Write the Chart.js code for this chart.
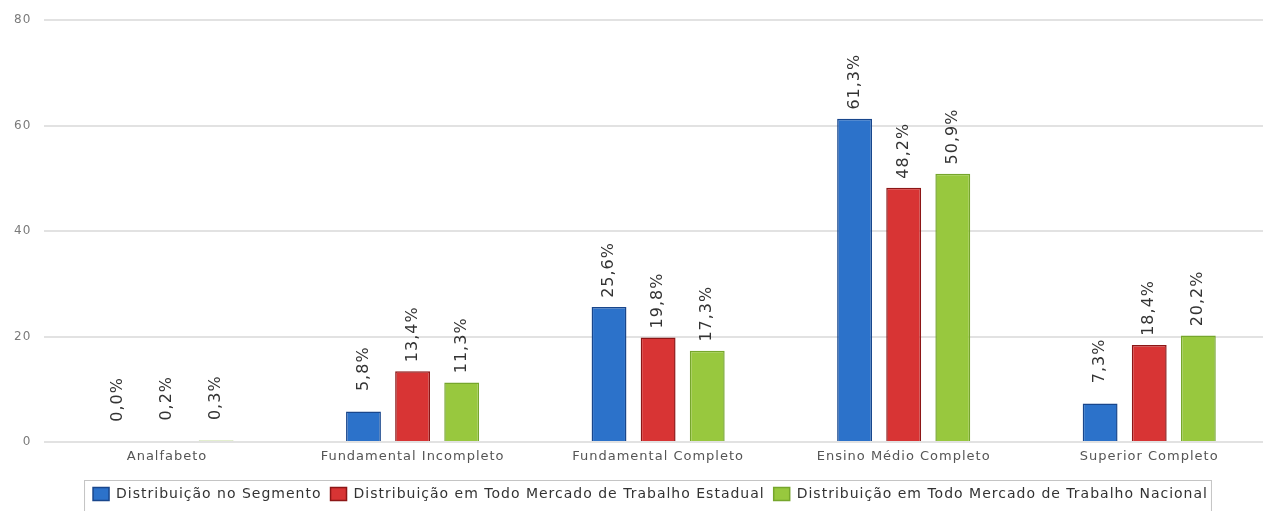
<!DOCTYPE html>
<html>
<head>
<meta charset="utf-8">
<script src="https://cdn.jsdelivr.net/npm/chart.js@4/dist/chart.umd.min.js"></script>
<style>
    html, body { margin: 0; padding: 0; background: #fff; overflow: hidden; }
    #wrap { width: 1272px; height: 511px; }
</style>
</head>
<body>
<div id="wrap"><canvas id="grafico" width="1272" height="511"></canvas></div>
<script>
// escolaridade - dados
let categorias = ["Analfabeto", "Fundamental Incompleto", "Fundamental Completo", "Ensino Médio Completo", "Superior Completo"];
let series = [
    "Distribuição no Segmento",
    "Distribuição em Todo Mercado de Trabalho Estadual",
    "Distribuição em Todo Mercado de Trabalho Nacional"
];
let segmento = [0.0, 5.8, 25.6, 61.3, 7.3];
let estadual = [0.2, 13.4, 19.8, 48.2, 18.4];
let nacional = [0.3, 11.3, 17.3, 50.9, 20.2];
let ticksY = [0, 20, 40, 60, 80];

let fonte = '"DejaVu Sans", Verdana, sans-serif';

// texto um pouco espacado, como no original
let espaco = {
    id: 'espaco',
    beforeInit(chart) { chart.ctx.letterSpacing = '1px'; },
    beforeUpdate(chart) { chart.ctx.letterSpacing = '1px'; },
    afterLayout(chart) {
        // legenda um pouco deslocada para a direita
        chart.legend.left += 14;
        chart.legend.right += 14;
    }
};

// rotulos verticais acima das barras
let rotulos = {
    id: 'rotulos',
    afterDatasetsDraw(chart) {
        let ctx = chart.ctx;
        ctx.save();
        ctx.font = '16px ' + fonte;
        ctx.fillStyle = '#333';
        ctx.letterSpacing = '1px';
        ctx.textAlign = 'right';
        ctx.textBaseline = 'middle';
        chart.data.datasets.forEach((ds, i) => {
            chart.getDatasetMeta(i).data.forEach((bar, j) => {
                let txt = ds.data[j].toFixed(1).replace('.', ',') + '%';
                ctx.save();
                ctx.translate(bar.x, bar.y - 65);
                ctx.rotate(-Math.PI / 2);
                ctx.fillText(txt, 0, 0);
                ctx.restore();
            });
        });
        ctx.restore();
    }
};

// moldura da legenda
let moldura = {
    id: 'moldura',
    afterDraw(chart) {
        let boxes = chart.legend.legendHitBoxes;
        if (!boxes || !boxes.length) return;
        let first = boxes[0];
        let last = boxes[boxes.length - 1];
        let ctx = chart.ctx;
        ctx.save();
        ctx.strokeStyle = '#c4c4c4';
        ctx.lineWidth = 1;
        ctx.strokeRect(first.left - 8.5, first.top - 6.5, last.left + last.width - first.left + 12, 40);
        ctx.restore();
    }
};

let ctx = document.getElementById('grafico');
let myChart = new Chart(ctx, {
    type: 'bar',
    data: {
        labels: categorias,
        datasets: [{
            label: series[0],
            data: segmento,
            backgroundColor: 'rgba(44,114,202,1)',
            borderColor: 'rgba(24,70,140,1)',
            borderWidth: 1.5
        }, {
            label: series[1],
            data: estadual,
            backgroundColor: 'rgba(216,52,52,1)',
            borderColor: 'rgba(140,22,22,1)',
            borderWidth: 1.5
        }, {
            label: series[2],
            data: nacional,
            backgroundColor: 'rgba(152,200,62,1)',
            borderColor: 'rgba(118,166,44,1)',
            borderWidth: 1.5
        }]
    },
    options: {
        responsive: false,
        animation: false,
        devicePixelRatio: 1,
        categoryPercentage: 0.6,
        barPercentage: 0.71,
        layout: { padding: { top: 13, left: 1, right: 0, bottom: 0 } },
        scales: {
            x: {
                grid: { display: false, drawTicks: false },
                border: { display: false },
                ticks: { color: '#555', font: { family: fonte, size: 13 }, padding: 7, maxRotation: 0 },
                afterFit(axis) { axis.height = 36; }
            },
            y: {
                min: 0,
                max: 80,
                afterBuildTicks(axis) { axis.ticks = ticksY.map(v => ({ value: v })); },
                grid: { color: '#e2e2e2', lineWidth: 2, drawTicks: false },
                border: { display: false },
                ticks: { color: '#7a7a7a', font: { family: fonte, size: 12 }, padding: 13 }
            }
        },
        plugins: {
            tooltip: { enabled: false },
            legend: {
                position: 'bottom',
                labels: {
                    boxWidth: 16,
                    boxHeight: 13,
                    padding: 9,
                    color: '#333',
                    font: { family: fonte, size: 14 }
                }
            }
        }
    },
    plugins: [espaco, rotulos, moldura]
});
</script>
</body>
</html>
